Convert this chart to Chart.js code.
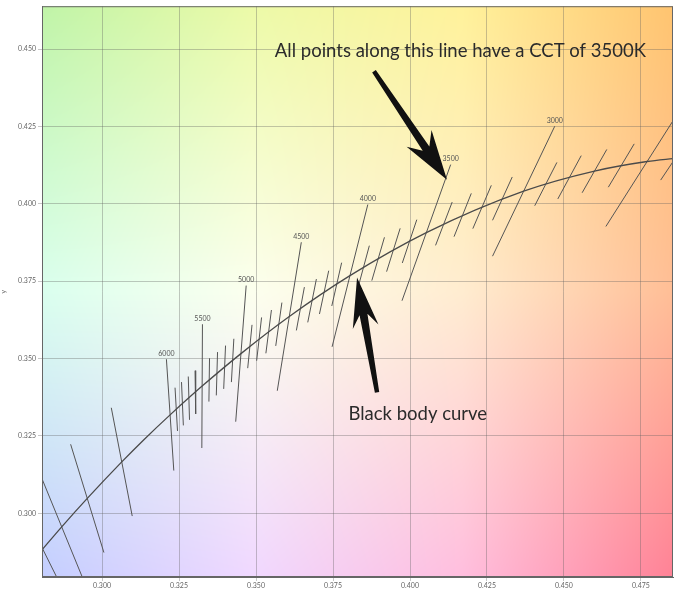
<!DOCTYPE html>
<html>
<head>
<meta charset="utf-8">
<script src="https://cdn.jsdelivr.net/npm/chart.js@4.4.1/dist/chart.umd.min.js"></script>
<style>
html, body { margin: 0; padding: 0; background: #fff; }
</style>
</head>
<body>
<canvas id="cctChart" width="679" height="590"></canvas>
<script>
// Planckian locus (CIE 1931 xy), ordered by x
const locusX = [0.2807, 0.2869, 0.2952, 0.3064, 0.3135, 0.3221, 0.3325, 0.3451, 0.3608, 0.3805, 0.4053, 0.4369, 0.4599, 0.4770, 0.4861];
const locusY = [0.2884, 0.2956, 0.3048, 0.3166, 0.3237, 0.3318, 0.3411, 0.3516, 0.3636, 0.3768, 0.3907, 0.4041, 0.4106, 0.4137, 0.4147];

// isotherm lines: upper end (x1, y1) and lower end (x2, y2)
const isoCCT = [10000, 9000, 8000, 7000, 6000, 5900, 5800, 5700, 5600, 5500, 5400, 5300, 5200, 5100, 5000,
    4900, 4800, 4700, 4600, 4500, 4400, 4300, 4200, 4100, 4000, 3900, 3800, 3700, 3600, 3500,
    3400, 3300, 3200, 3100, 3000, 2900, 2800, 2700, 2600, 2500, 2400];
const isoX1 = [0.2720, 0.2797, 0.2898, 0.3030, 0.3209, 0.3237, 0.3258, 0.3280, 0.3302, 0.3326, 0.3349, 0.3375, 0.3401, 0.3428, 0.3468,
    0.3487, 0.3518, 0.3550, 0.3584, 0.3647, 0.3657, 0.3696, 0.3736, 0.3778, 0.3863, 0.3868, 0.3917, 0.3968, 0.4022, 0.4132,
    0.4137, 0.4199, 0.4264, 0.4332, 0.4470, 0.4477, 0.4556, 0.4639, 0.4728, 0.4904, 0.4908];
const isoY1 = [0.3059, 0.3131, 0.3223, 0.3341, 0.3498, 0.3406, 0.3424, 0.3442, 0.3461, 0.3611, 0.3501, 0.3521, 0.3542, 0.3564, 0.3736,
    0.3609, 0.3633, 0.3657, 0.3681, 0.3876, 0.3731, 0.3757, 0.3784, 0.3810, 0.3998, 0.3865, 0.3892, 0.3921, 0.3949, 0.4127,
    0.4006, 0.4034, 0.4060, 0.4087, 0.4251, 0.4134, 0.4156, 0.4176, 0.4194, 0.4347, 0.4217];
const isoX2 = [0.2895, 0.2941, 0.3006, 0.3098, 0.3233, 0.3245, 0.3264, 0.3284, 0.3304, 0.3324, 0.3347, 0.3371, 0.3395, 0.3420, 0.3434,
    0.3473, 0.3502, 0.3532, 0.3564, 0.3569, 0.3631, 0.3668, 0.3706, 0.3746, 0.3747, 0.3830, 0.3876, 0.3924, 0.3975, 0.3974,
    0.4083, 0.4143, 0.4204, 0.4268, 0.4268, 0.4405, 0.4480, 0.4559, 0.4644, 0.4636, 0.4814];
const isoY2 = [0.2709, 0.2781, 0.2873, 0.2991, 0.3138, 0.3266, 0.3284, 0.3302, 0.3321, 0.3211, 0.3361, 0.3381, 0.3402, 0.3424, 0.3296,
    0.3469, 0.3493, 0.3517, 0.3541, 0.3396, 0.3591, 0.3617, 0.3644, 0.3670, 0.3538, 0.3725, 0.3752, 0.3781, 0.3809, 0.3687,
    0.3866, 0.3894, 0.3920, 0.3947, 0.3831, 0.3994, 0.4016, 0.4036, 0.4054, 0.3927, 0.4077];
const labeledCCT = [6000, 5500, 5000, 4500, 4000, 3500, 3000, 2500];

const xTicks = [0.300, 0.325, 0.350, 0.375, 0.400, 0.425, 0.450, 0.475];
const yTicks = [0.300, 0.325, 0.350, 0.375, 0.400, 0.425, 0.450];

// background tint grid (top row .. bottom row, left .. right)
const bgColors = [
    [[192, 244, 168], [236, 250, 168], [255, 242, 155], [255, 196, 112]],
    [[218, 255, 238], [252, 255, 238], [255, 236, 208], [255, 190, 150]],
    [[196, 206, 255], [240, 216, 255], [255, 190, 222], [255, 130, 150]]
];

const chromaBackground = {
    id: 'chromaBackground',
    beforeDraw(chart) {
        const a = chart.chartArea;
        const ctx = chart.ctx;
        const w = Math.round(a.right - a.left), h = Math.round(a.bottom - a.top);
        const img = ctx.createImageData(w, h);
        const rows = bgColors.length - 1, cols = bgColors[0].length - 1;
        for (let j = 0; j < h; j++) {
            const fy = j / (h - 1) * rows;
            const r0 = Math.min(Math.floor(fy), rows - 1);
            const ty = fy - r0;
            for (let i = 0; i < w; i++) {
                const fx = i / (w - 1) * cols;
                const c0 = Math.min(Math.floor(fx), cols - 1);
                const tx = fx - c0;
                const p = (j * w + i) * 4;
                for (let k = 0; k < 3; k++) {
                    const top = bgColors[r0][c0][k] * (1 - tx) + bgColors[r0][c0 + 1][k] * tx;
                    const bot = bgColors[r0 + 1][c0][k] * (1 - tx) + bgColors[r0 + 1][c0 + 1][k] * tx;
                    img.data[p + k] = top * (1 - ty) + bot * ty;
                }
                img.data[p + 3] = 255;
            }
        }
        ctx.putImageData(img, Math.round(a.left), Math.round(a.top));
    }
};

function drawArrow(ctx, x0, y0, x1, y1, headLen, headHalf) {
    const dx = x1 - x0, dy = y1 - y0, len = Math.hypot(dx, dy);
    const ux = dx / len, uy = dy / len, nx = -uy, ny = ux;
    const bx = x1 - ux * headLen * 0.75, by = y1 - uy * headLen * 0.75;
    const wx = x1 - ux * headLen, wy = y1 - uy * headLen;
    ctx.beginPath();
    ctx.moveTo(x0 + nx * 2.2, y0 + ny * 2.2);
    ctx.lineTo(bx + nx * 4, by + ny * 4);
    ctx.lineTo(wx + nx * headHalf, wy + ny * headHalf);
    ctx.lineTo(x1, y1);
    ctx.lineTo(wx - nx * headHalf, wy - ny * headHalf);
    ctx.lineTo(bx - nx * 4, by - ny * 4);
    ctx.lineTo(x0 - nx * 2.2, y0 - ny * 2.2);
    ctx.closePath();
    ctx.fill();
}

const notes = {
    id: 'notes',
    afterDatasetsDraw(chart) {
        const ctx = chart.ctx;
        const xs = chart.scales.x, ys = chart.scales.y;
        const a = chart.chartArea;
        const px = v => xs.getPixelForValue(v);
        const py = v => ys.getPixelForValue(v);

        ctx.save();
        ctx.beginPath();
        ctx.rect(a.left, a.top, a.right - a.left, a.bottom - a.top);
        ctx.clip();

        // CCT labels on the long isotherms
        ctx.fillStyle = '#555';
        ctx.font = '7px Lato';
        ctx.textAlign = 'center';
        ctx.textBaseline = 'bottom';
        labeledCCT.forEach(t => {
            const i = isoCCT.indexOf(t);
            const x = px(isoX1[i]), y = py(isoY1[i]) - 2;
            if (x > a.left + 8 && x < a.right - 8) ctx.fillText(String(t), x, y);
        });

        // arrows and captions
        ctx.fillStyle = '#111';
        drawArrow(ctx, px(0.3883), py(0.4429), px(0.4120), py(0.4078), 50, 15);
        drawArrow(ctx, px(0.3893), py(0.3391), px(0.3828), py(0.3762), 50, 13);

        ctx.fillStyle = '#2b2b2b';
        ctx.font = '18.5px Lato';
        ctx.textAlign = 'left';
        ctx.textBaseline = 'middle';
        ctx.fillText('All points along this line have a CCT of 3500K', px(0.3561), py(0.4494));
        ctx.fillText('Black body curve', px(0.3800), py(0.3320));
        ctx.restore();

        ctx.save();
        ctx.strokeStyle = '#666';
        ctx.lineWidth = 1;
        ctx.strokeRect(a.left + 0.5, a.top + 0.5, a.right - a.left - 1, a.bottom - a.top - 1);
        ctx.restore();
    }
};

const datasets = [{
    data: locusX.map((x, i) => ({ x: x, y: locusY[i] })),
    showLine: true,
    borderColor: '#4a4a4a',
    borderWidth: 1.3,
    pointRadius: 0,
    cubicInterpolationMode: 'monotone'
}];
isoCCT.forEach((t, i) => {
    datasets.push({
        data: [{ x: isoX1[i], y: isoY1[i] }, { x: isoX2[i], y: isoY2[i] }],
        showLine: true,
        borderColor: '#555',
        borderWidth: 1,
        pointRadius: 0
    });
});

const gridColor = 'rgba(95, 95, 95, 0.35)';
const ctxCct = document.getElementById('cctChart').getContext('2d');
const cctChart = new Chart(ctxCct, {
    type: 'scatter',
    data: { datasets: datasets },
    plugins: [chromaBackground, notes],
    options: {
        responsive: false,
        animation: false,
        events: [],
        layout: { padding: { top: 5, right: 6, left: 0, bottom: 0 } },
        plugins: {
            legend: { display: false },
            tooltip: { enabled: false }
        },
        scales: {
            x: {
                type: 'linear',
                min: 0.2805,
                max: 0.4854,
                afterBuildTicks: s => { s.ticks = xTicks.map(v => ({ value: v })); },
                afterFit: s => { s.height = 13; },
                grid: { color: gridColor, tickLength: 4 },
                border: { color: '#666' },
                ticks: {
                    color: '#666',
                    padding: 1,
                    maxRotation: 0,
                    font: { family: 'Lato', size: 7 },
                    callback: v => v.toFixed(3)
                }
            },
            y: {
                type: 'linear',
                min: 0.2794,
                max: 0.4639,
                afterBuildTicks: s => { s.ticks = yTicks.map(v => ({ value: v })); },
                afterFit: s => { s.width = 42; },
                grid: { color: gridColor, tickLength: 4 },
                border: { color: '#666' },
                title: { display: true, text: 'y', color: '#666', font: { family: 'Lato', size: 7 }, padding: 0 },
                ticks: {
                    color: '#666',
                    padding: 2,
                    font: { family: 'Lato', size: 7 },
                    callback: v => v.toFixed(3)
                }
            }
        }
    }
});
</script>
</body>
</html>
